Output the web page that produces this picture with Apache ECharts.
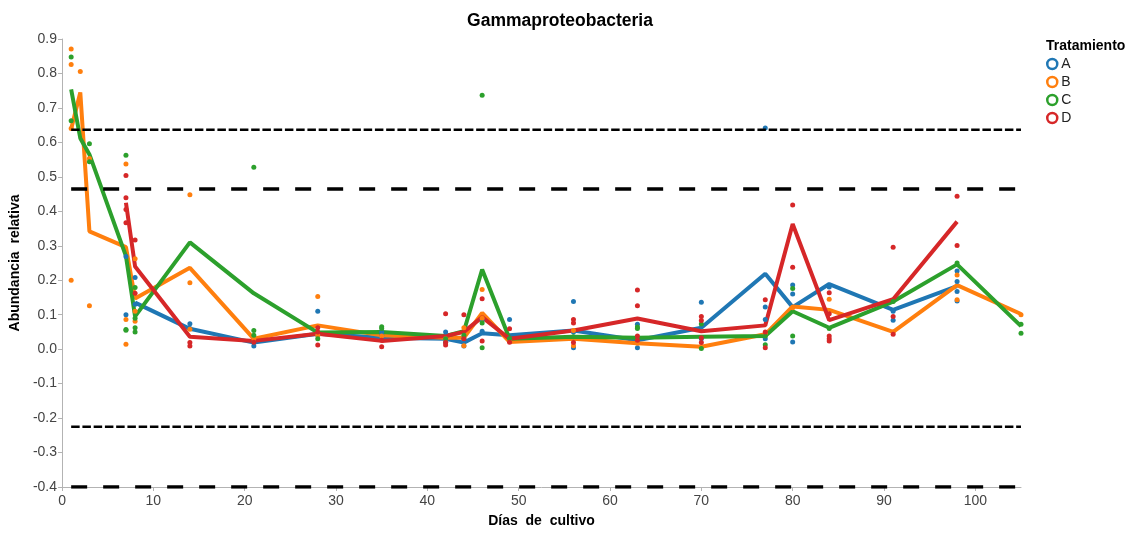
<!DOCTYPE html>
<html>
<head>
<meta charset="utf-8">
<script src="https://cdn.jsdelivr.net/npm/echarts@6/dist/echarts.min.js"></script>
<style>
  html, body { margin: 0; padding: 0; background: #fff; }
  #chart { width: 1130px; height: 533px; }
</style>
</head>
<body>
<div id="chart"></div>
<script>
// Sampling days (x axis)
const days = [1, 2, 3, 7, 8, 14, 21, 28, 35, 42, 44, 46, 49, 56, 63, 70, 77, 80, 84, 91, 98, 105];

// Mean relative abundance per treatment, aligned with `days` (null = no sample)
const meanA = [null, null, null, null, 0.135, 0.059, 0.019, 0.045, 0.033, 0.030, 0.019, 0.046, 0.040, 0.054, 0.026, 0.062, 0.219, 0.122, 0.189, 0.114, 0.183, null];
const meanB = [0.639, 0.745, 0.342, 0.296, 0.147, 0.236, 0.030, 0.069, 0.040, 0.033, 0.033, 0.105, 0.021, 0.030, 0.017, 0.007, 0.043, 0.124, 0.114, 0.050, 0.186, 0.102];
const meanC = [0.754, 0.612, 0.565, 0.270, 0.095, 0.310, 0.162, 0.048, 0.050, 0.038, 0.052, 0.231, 0.030, 0.036, 0.033, 0.036, 0.038, 0.110, 0.062, 0.138, 0.246, 0.067];
const meanD = [null, null, null, 0.425, 0.240, 0.036, 0.024, 0.045, 0.024, 0.038, 0.050, 0.093, 0.030, 0.054, 0.089, 0.052, 0.069, 0.363, 0.084, 0.145, 0.370, null];

// Individual replicate observations [day, value]
const obsA = [[7,0.269],[7,0.100],[8,0.208],[8,0.130],[14,0.074],[14,0.060],[21,0.009],[21,0.020],[28,0.110],[28,0.040],
  [35,0.050],[35,0.040],[42,0.050],[42,0.020],[44,0.009],[44,0.030],[46,0.052],[46,0.085],[49,0.086],[49,0.030],
  [56,0.138],[56,0.004],[56,0.050],[63,0.072],[63,0.004],[70,0.136],[70,0.030],[77,0.642],[77,0.122],[77,0.086],[77,0.030],
  [80,0.186],[80,0.021],[80,0.160],[84,0.180],[91,0.084],[91,0.110],[98,0.227],[98,0.196],[98,0.167],[98,0.140]];
const obsB = [[1,0.871],[1,0.826],[1,0.200],[1,0.640],[2,0.806],[3,0.553],[3,0.126],[7,0.537],[7,0.086],[7,0.014],
  [8,0.262],[8,0.081],[8,0.110],[14,0.448],[14,0.193],[14,0.058],[21,0.030],[28,0.153],[28,0.040],[35,0.038],[42,0.030],
  [44,0.062],[44,0.010],[46,0.173],[46,0.090],[49,0.024],[56,0.054],[56,0.010],[63,0.017],[70,0.007],[77,0.045],[80,0.120],
  [84,0.145],[91,0.050],[98,0.215],[98,0.143],[105,0.100]];
const obsC = [[1,0.848],[1,0.663],[3,0.596],[3,0.544],[7,0.563],[7,0.057],[7,0.055],[8,0.179],[8,0.090],[8,0.062],[8,0.050],
  [21,0.528],[21,0.054],[21,0.040],[28,0.030],[35,0.065],[35,0.060],[42,0.030],[44,0.040],[46,0.737],[46,0.076],[46,0.004],
  [49,0.030],[56,0.036],[63,0.064],[63,0.060],[70,0.073],[70,0.002],[77,0.038],[77,0.013],[80,0.176],[80,0.038],[84,0.060],
  [91,0.138],[98,0.250],[105,0.072],[105,0.046]];
const obsD = [[7,0.504],[7,0.439],[7,0.405],[7,0.367],[8,0.317],[8,0.162],[14,0.019],[14,0.009],[21,0.020],[28,0.062],[28,0.050],[28,0.012],
  [35,0.026],[35,0.007],[42,0.103],[42,0.019],[42,0.012],[44,0.100],[44,0.030],[46,0.146],[46,0.024],[49,0.059],[49,0.020],
  [56,0.086],[56,0.076],[56,0.019],[63,0.172],[63,0.126],[63,0.038],[63,0.026],[70,0.095],[70,0.083],[70,0.033],[70,0.019],
  [77,0.143],[77,0.050],[77,0.004],[80,0.418],[80,0.238],[84,0.164],[84,0.103],[84,0.038],[84,0.030],[84,0.024],
  [91,0.296],[91,0.095],[91,0.043],[98,0.444],[98,0.301]];

// Horizontal reference levels: [value, style], drawn across the sampled period
const refLevels = [[0.6365, 'fine'], [0.4647, 'long'], [-0.225, 'fine'], [-0.4, 'long']];

const treatments = ['A', 'B', 'C', 'D'];
const colors = ['#1f77b4', '#ff7f0e', '#2ca02c', '#d62728'];
const means = [meanA, meanB, meanC, meanD];
const obs = [obsA, obsB, obsC, obsD];

const FONT = 'Liberation Sans, Arial, sans-serif';

function pairs(vals) {
  const out = [];
  days.forEach((d, i) => { if (vals[i] !== null) out.push([d, vals[i]]); });
  return out;
}

const firstDay = days[0];
const lastDay = days[days.length - 1];

const series = [];
treatments.forEach((t, i) => {
  series.push({
    name: t + ' media',
    type: 'line',
    data: pairs(means[i]),
    showSymbol: false,
    symbol: 'none',
    lineStyle: { color: colors[i], width: 4 },
    z: 3 + i,
    silent: true
  });
});
treatments.forEach((t, i) => {
  series.push({
    name: t,
    type: 'scatter',
    data: obs[i],
    symbol: 'circle',
    symbolSize: 5,
    itemStyle: { color: colors[i], opacity: 1 },
    z: 10
  });
});
refLevels.forEach(([v, kind]) => {
  series.push({
    name: 'ref ' + v,
    type: 'line',
    data: [[firstDay, v], [lastDay, v]],
    symbol: 'none',
    silent: true,
    lineStyle: kind === 'fine'
      ? { color: '#000', width: 2.5, type: [8.5, 2.75] }
      : { color: '#000', width: 3.3, type: [16, 16] },
    z: 20
  });
});

const chart = echarts.init(document.getElementById('chart'), null, { renderer: 'canvas' });
chart.setOption({
  animation: false,
  backgroundColor: '#fff',
  title: [
    {
      text: 'Gammaproteobacteria',
      left: 555, top: 7, textAlign: 'center',
      textStyle: { fontFamily: FONT, fontWeight: 'bold', fontSize: 17.5, color: '#000' }
    },
    {
      text: 'Tratamiento',
      left: 1041, top: 34,
      textStyle: { fontFamily: FONT, fontWeight: 'bold', fontSize: 14, color: '#000' }
    }
  ],
  legend: {
    orient: 'vertical',
    left: 1046, top: 57,
    padding: 0,
    itemGap: 4,
    itemWidth: 10, itemHeight: 10,
    textStyle: { fontFamily: FONT, fontSize: 14, lineHeight: 14, color: '#222', padding: [0, 0, 0, -1] },
    data: treatments.map((t, i) => ({
      name: t,
      icon: 'circle',
      itemStyle: { color: '#fff', borderColor: colors[i], borderWidth: 2.5 }
    })),
    selectedMode: false
  },
  grid: { left: 57, right: 109, top: 39, bottom: 40, containLabel: false },
  xAxis: {
    type: 'value',
    min: 0, max: 105, interval: 10,
    name: 'Días  de  cultivo',
    nameLocation: 'middle',
    nameGap: 27,
    nameTextStyle: { fontFamily: FONT, fontWeight: 'bold', fontSize: 14, color: '#000' },
    axisLine: { show: true, onZero: false, lineStyle: { color: '#b3b3b3', width: 1 } },
    axisTick: { show: true, length: 4, lineStyle: { color: '#b3b3b3' } },
    axisLabel: { fontFamily: FONT, fontSize: 14, color: '#444', margin: 7, showMaxLabel: false },
    splitLine: { show: false }
  },
  yAxis: {
    type: 'value',
    min: -0.4, max: 0.9, interval: 0.1,
    name: 'Abundancia  relativa',
    nameLocation: 'middle',
    nameGap: 28,
    nameTextStyle: { fontFamily: FONT, fontWeight: 'bold', fontSize: 14, color: '#000' },
    axisLine: { show: true, onZero: false, lineStyle: { color: '#b3b3b3', width: 1 } },
    axisTick: { show: true, length: 4, lineStyle: { color: '#b3b3b3' } },
    axisLabel: {
      fontFamily: FONT, fontSize: 14, color: '#444', margin: 5,
      formatter: v => (Math.round(v * 10) / 10).toFixed(1)
    },
    splitLine: { show: false }
  },
  series: series
});
</script>
</body>
</html>
